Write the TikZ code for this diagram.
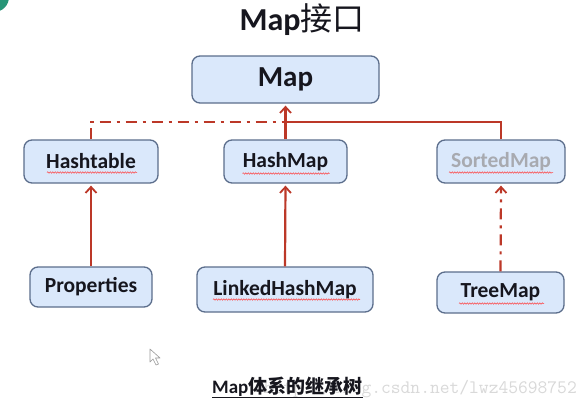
\documentclass[tikz,border=0pt]{standalone}
\usepackage{fontspec}
\setmainfont{Carlito}
\newfontfamily\cjk{Noto Sans CJK SC}
\newfontfamily\cjkb{Noto Sans CJK SC Bold}
\usetikzlibrary{arrows.meta,calc,decorations.pathmorphing}
\definecolor{boxfill}{RGB}{218,232,251}
\definecolor{boxline}{RGB}{92,110,140}
\definecolor{linkred}{RGB}{188,56,40}
\definecolor{dimtext}{RGB}{168,170,176}
\definecolor{inktext}{RGB}{22,22,30}
\definecolor{logogreen}{RGB}{40,150,120}
\tikzset{
  cls/.style={draw=boxline, line width=1.3pt, fill=boxfill, rounded corners=8pt,
    font=\bfseries\fontsize{21.5}{24}\selectfont, text=inktext, inner sep=0pt},
  ext/.style={draw=linkred, line width=2.2pt},
  impl/.style={draw=linkred, line width=2.2pt, dash pattern=on 11pt off 6pt on 3pt off 6pt},
  tip/.style={-{Straight Barb[length=6pt,width=11pt,line width=1.8pt]}, shorten >=2pt},
  squig/.style={draw=red!75, line width=0.5pt, decorate,
    decoration={snake, amplitude=0.7pt, segment length=2.5pt}}
}
\begin{document}
\begin{tikzpicture}[x=1pt,y=-1pt]
\useasboundingbox[fill=white] (0,0) rectangle (585,407);
% logo fragment
\fill[logogreen] (-6,-3) circle (15);
% title
\node[anchor=base, text=inktext, inner sep=0pt] (title) at (302,30)
  {\bfseries\fontsize{32}{36}\selectfont Map{\mdseries\cjk 接口}};
% classes
\node[cls, minimum width=187pt, minimum height=47pt, font=\bfseries\fontsize{29}{32}\selectfont] (map) at (285.5,79.5) {Map};
\node[cls, minimum width=134pt, minimum height=43pt] (ht) at (91,161.5) {Hashtable};
\node[cls, minimum width=123pt, minimum height=43pt] (hm) at (285.5,161.5) {HashMap};
\node[cls, minimum width=128pt, minimum height=43pt, text=dimtext] (sm) at (501,161.5) {SortedMap};
\node[cls, minimum width=122pt, minimum height=40pt] (pr) at (91,287) {Properties};
\node[cls, minimum width=176pt, minimum height=45pt] (lhm) at (285,289.5) {LinkedHashMap};
\node[cls, minimum width=127pt, minimum height=41pt] (tm) at (500.5,292.5) {TreeMap};
% junctions
\coordinate (jl) at (91,122);
\coordinate (jm) at (285.5,122);
% connectors
\draw[impl] (ht.north) -- (jl) -- (jm);
\draw[ext] (sm.north) |- (jm);
\draw[ext, tip] (hm.north) -- (map.south);
\draw[ext, tip] (pr.north) -- (ht.south);
\draw[ext, tip] (lhm.north) -- (hm.south);
\draw[impl, tip] (tm.north) -- (sm.south);
% spell-check squiggles
\draw[squig] ($(ht.center)+(-44,11)$) -- ($(ht.center)+(46,11)$);
\draw[squig] ($(hm.center)+(-43,12)$) -- ($(hm.center)+(44,12)$);
\draw[squig] ($(sm.center)+(-52,11)$) -- ($(sm.center)+(52,11)$);
\draw[squig] ($(lhm.center)+(-72,10)$) -- ($(lhm.center)+(75,10)$);
\draw[squig] ($(tm.center)+(-41.5,11)$) -- ($(tm.center)+(43.5,11)$);
% cursor
\draw[gray!80, line width=0.6pt, fill=white, line join=round]
  (150,349) -- (150,362) -- (153,359) -- (156,365) -- (158.5,364) -- (155.5,358) -- (160,358) -- cycle;
% watermark
\node[anchor=base east, inner sep=0pt, text=gray!30] (wm) at (577,393)
  {\ttfamily\fontsize{19}{22}\selectfont http://blog.csdn.net/lwz45698752};
% caption
\node[anchor=base west, inner sep=0pt, text=inktext] (cap) at (212,393)
  {\bfseries\fontsize{19}{22}\selectfont Map{\cjkb 体系的继承树}};
\draw[inktext, line width=1pt] ($(cap.south west)+(0,1.5)$) -- ($(cap.south east)+(0,1.5)$);
\end{tikzpicture}
\end{document}
